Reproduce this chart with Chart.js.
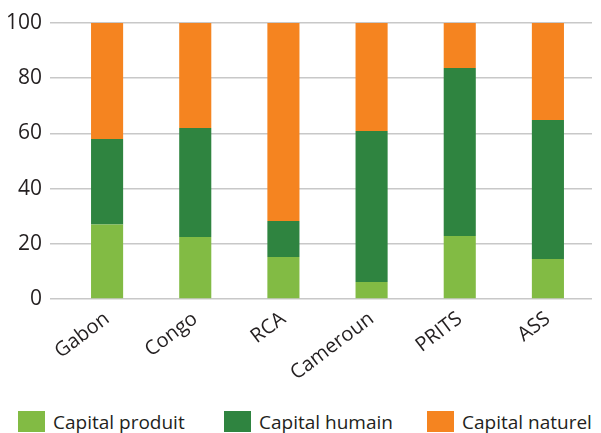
<!DOCTYPE html>
<html>
<head>
<meta charset="utf-8">
<script src="https://cdn.jsdelivr.net/npm/chart.js@4/dist/chart.umd.min.js"></script>
<style>
  html, body { margin: 0; padding: 0; background: #fff; }
  #wrap { width: 601px; height: 433px; position: relative; }
  #plot { position: absolute; left: 0; top: 0; width: 601px; height: 400px; }
  #legend { position: absolute; left: 0; top: 411px; width: 601px; height: 22px;
            font-family: 'Open Sans', 'Noto Sans', sans-serif; font-size: 19px; color: #231f20; }
  .item { position: absolute; top: 0; display: flex; align-items: center; height: 21px; white-space: nowrap; }
  .box { width: 27px; height: 21px; margin-right: 8px; }
</style>
</head>
<body>
<div id="wrap">
  <div id="plot"><canvas id="chart"></canvas></div>
  <div id="legend"></div>
</div>
<script>
// Categories and series (share of total wealth, %)
const categories = ['Gabon', 'Congo', 'RCA', 'Cameroun', 'PRITS', 'ASS'];
const capitalProduit = [27, 22.5, 15.2, 6.2, 22.8, 14.5];
const capitalHumain = [31, 39.5, 13.1, 54.7, 60.9, 50.4];
const capitalNaturel = [42, 38, 71.7, 39.1, 16.3, 35.1];
const yTicks = [0, 20, 40, 60, 80, 100];

const fontFamily = "'Open Sans', 'Noto Sans', sans-serif";
const textColor = '#231f20';

const ctx = document.getElementById('chart').getContext('2d');
window.myChart = new Chart(ctx, {
    type: 'bar',
    data: {
        labels: categories,
        datasets: [
            { label: 'Capital produit', data: capitalProduit, backgroundColor: '#82bb44' },
            { label: 'Capital humain', data: capitalHumain, backgroundColor: '#2f8440' },
            { label: 'Capital naturel', data: capitalNaturel, backgroundColor: '#f58420' }
        ]
    },
    options: {
        responsive: true,
        maintainAspectRatio: false,
        animation: false,
        layout: { padding: { left: 2, right: 9, top: 23, bottom: 0 } },
        datasets: { bar: { barPercentage: 0.364, categoryPercentage: 1.0 } },
        plugins: {
            legend: { display: false }, // drawn as HTML below so the items can sit far apart
            tooltip: { enabled: false }
        },
        scales: {
            x: {
                stacked: true,
                grid: { display: false },
                border: { display: false },
                // rotated labels should not push the plot area around
                afterFit: s => { s.paddingLeft = 0; s.paddingRight = 0; s.height = 101; },
                ticks: {
                    color: textColor,
                    minRotation: 37,
                    maxRotation: 37,
                    padding: 0,
                    font: { family: fontFamily, size: 20 }
                }
            },
            y: {
                stacked: true,
                min: 0,
                max: 100,
                afterBuildTicks: axis => { axis.ticks = yTicks.map(v => ({ value: v })); },
                afterFit: s => { s.width = 61; },
                grid: { color: '#c8c8c8', lineWidth: 1.5, tickLength: 13 },
                border: { display: false },
                ticks: {
                    color: textColor,
                    padding: 8,
                    font: { family: fontFamily, size: 21 }
                }
            }
        }
    }
});

// Legend built from the chart's datasets
const legendX = [18, 224, 427];
const legendEl = document.getElementById('legend');
window.myChart.data.datasets.forEach((ds, i) => {
    const item = document.createElement('div');
    item.className = 'item';
    item.style.left = legendX[i] + 'px';
    const box = document.createElement('span');
    box.className = 'box';
    box.style.background = ds.backgroundColor;
    const label = document.createElement('span');
    label.textContent = ds.label;
    item.appendChild(box);
    item.appendChild(label);
    legendEl.appendChild(item);
});
</script>
</body>
</html>
